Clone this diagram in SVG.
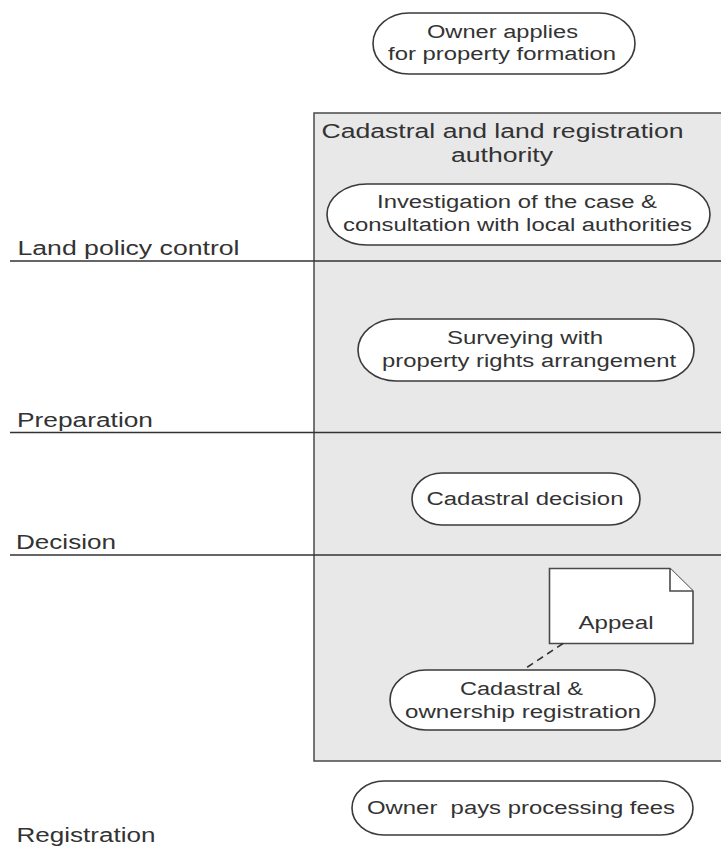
<svg xmlns="http://www.w3.org/2000/svg" width="721" height="846" viewBox="0 0 721 846">
  <style>
    .lane { fill: #e8e8e8; stroke: #4a4a4a; stroke-width: 1.5; }
    .rule { stroke: #333; stroke-width: 1.6; fill: none; }
    .act { fill: #ffffff; stroke: #3a3a3a; stroke-width: 1.6; }
    .note { fill: #ffffff; stroke: #4a4a4a; stroke-width: 1.6; stroke-linejoin: miter; }
    .link { stroke: #333; stroke-width: 1.6; stroke-dasharray: 7 5; fill: none; }
    text { font-family: "Liberation Sans", Arial, sans-serif; fill: #333; }
    .t { font-size: 18px; text-anchor: middle; }
    .h { font-size: 19.5px; text-anchor: middle; }
    .lbl { font-size: 19.5px; }
  </style>

  <!-- authority swimlane -->
  <g id="authority">
    <rect class="lane" x="314" y="113" width="420" height="648"/>
    <text class="h" x="502.5" y="137.5" textLength="362" lengthAdjust="spacingAndGlyphs">Cadastral and land registration</text>
    <text class="h" x="502" y="161.5" textLength="102" lengthAdjust="spacingAndGlyphs">authority</text>
  </g>

  <!-- phase separators and labels -->
  <g id="phases">
    <line class="rule" x1="10" y1="261" x2="721" y2="261"/>
    <line class="rule" x1="10" y1="432.5" x2="721" y2="432.5"/>
    <line class="rule" x1="10" y1="555" x2="721" y2="555"/>
    <text class="lbl" x="17.5" y="255" textLength="222" lengthAdjust="spacingAndGlyphs">Land policy control</text>
    <text class="lbl" x="17" y="426.5" textLength="136" lengthAdjust="spacingAndGlyphs">Preparation</text>
    <text class="lbl" x="16" y="549" textLength="100" lengthAdjust="spacingAndGlyphs">Decision</text>
    <text class="lbl" x="16.5" y="842" textLength="139" lengthAdjust="spacingAndGlyphs">Registration</text>
  </g>

  <g id="owner-applies">
    <rect class="act" x="373" y="13" width="262" height="61" rx="36" ry="30.5"/>
    <text class="t" x="502.5" y="37.5" textLength="151" lengthAdjust="spacingAndGlyphs">Owner applies</text>
    <text class="t" x="502" y="60" textLength="228" lengthAdjust="spacingAndGlyphs">for property formation</text>
  </g>

  <g id="investigation">
    <rect class="act" x="327" y="184" width="383" height="61" rx="40" ry="30.5"/>
    <text class="t" x="517" y="208" textLength="280" lengthAdjust="spacingAndGlyphs">Investigation of the case &amp;</text>
    <text class="t" x="517.5" y="231" textLength="349" lengthAdjust="spacingAndGlyphs">consultation with local authorities</text>
  </g>

  <g id="surveying">
    <rect class="act" x="358" y="319" width="336" height="62" rx="38" ry="31"/>
    <text class="t" x="525" y="344" textLength="156" lengthAdjust="spacingAndGlyphs">Surveying with</text>
    <text class="t" x="529" y="367" textLength="294" lengthAdjust="spacingAndGlyphs">property rights arrangement</text>
  </g>

  <g id="decision">
    <rect class="act" x="412" y="473" width="228" height="52" rx="30" ry="26"/>
    <text class="t" x="525" y="504.5" textLength="197" lengthAdjust="spacingAndGlyphs">Cadastral decision</text>
  </g>

  <g id="appeal">
    <path class="note" d="M549.5 568.5 H670 L693 591 V643.5 H549.5 Z"/>
    <path class="note" d="M670 568.5 V591 H693" fill="none"/>
    <text class="t" x="616" y="628.5" textLength="75" lengthAdjust="spacingAndGlyphs">Appeal</text>
  </g>

  <g id="registration">
    <rect class="act" x="390" y="670" width="265" height="60" rx="36" ry="30"/>
    <text class="t" x="521.5" y="694.5" textLength="123" lengthAdjust="spacingAndGlyphs">Cadastral &amp;</text>
    <text class="t" x="523" y="717.5" textLength="236" lengthAdjust="spacingAndGlyphs">ownership registration</text>
  </g>

  <g id="fees">
    <rect class="act" x="352" y="781" width="341" height="54" rx="32" ry="27"/>
    <text class="t" x="521" y="813.5" textLength="308" lengthAdjust="spacingAndGlyphs" style="white-space:pre">Owner  pays processing fees</text>
  </g>

  <!-- note attachment -->
  <g id="connectors">
    <line class="link" x1="563" y1="643.5" x2="523" y2="670"/>
  </g>
</svg>
